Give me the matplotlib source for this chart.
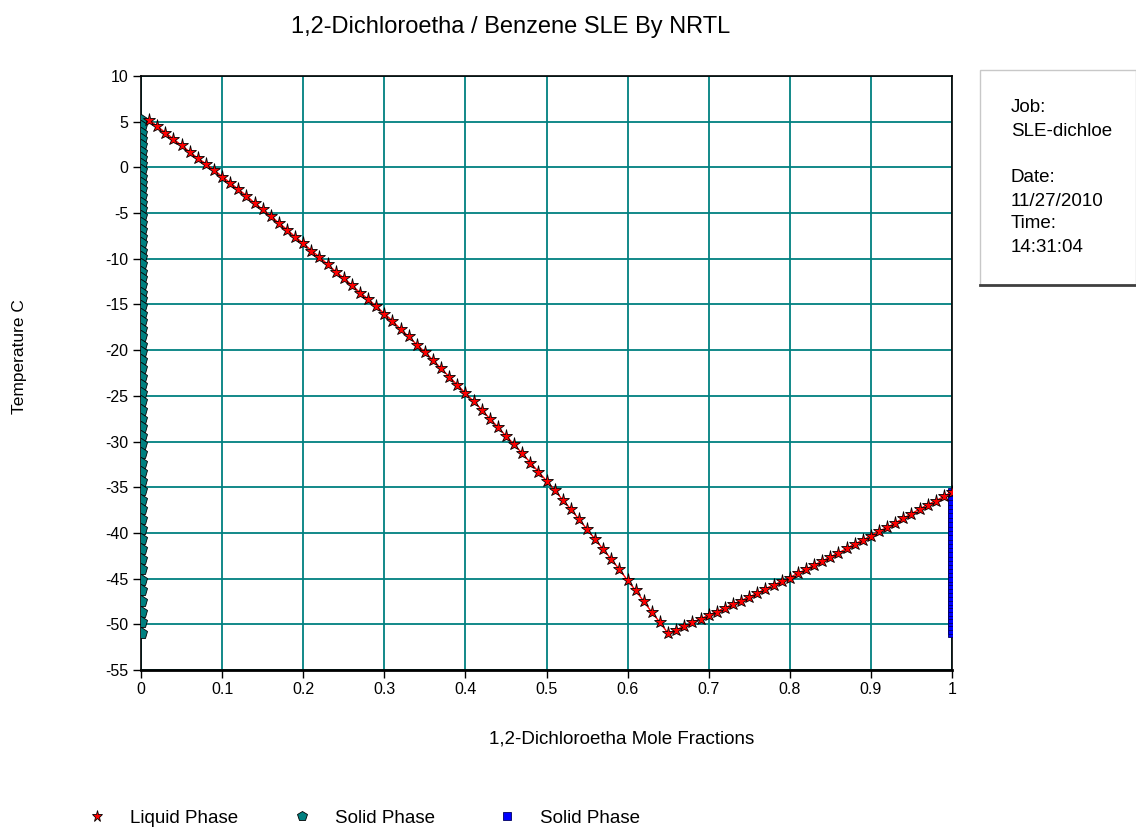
import matplotlib
matplotlib.use("Agg")
import matplotlib.pyplot as plt
from matplotlib.patches import Rectangle
from matplotlib.lines import Line2D

plt.rcParams['font.family'] = ['Liberation Sans', 'DejaVu Sans']
plt.rcParams['axes.unicode_minus'] = False

# liquidus, dichloroethane-rich side falling to the eutectic
x_left = [0.01, 0.02, 0.03, 0.04, 0.05, 0.06, 0.07, 0.08, 0.09, 0.10,
          0.11, 0.12, 0.13, 0.14, 0.15, 0.16, 0.17, 0.18, 0.19, 0.20,
          0.21, 0.22, 0.23, 0.24, 0.25, 0.26, 0.27, 0.28, 0.29, 0.30,
          0.31, 0.32, 0.33, 0.34, 0.35, 0.36, 0.37, 0.38, 0.39, 0.40,
          0.41, 0.42, 0.43, 0.44, 0.45, 0.46, 0.47, 0.48, 0.49, 0.50,
          0.51, 0.52, 0.53, 0.54, 0.55, 0.56, 0.57, 0.58, 0.59, 0.60,
          0.61, 0.62, 0.63, 0.64, 0.65]
t_left = [5.2, 4.5, 3.8, 3.1, 2.4, 1.7, 1.0, 0.4, -0.3, -1.0,
          -1.7, -2.4, -3.1, -3.9, -4.6, -5.3, -6.1, -6.8, -7.6, -8.3,
          -9.1, -9.8, -10.6, -11.4, -12.1, -12.9, -13.7, -14.4, -15.2, -16.0,
          -16.8, -17.7, -18.5, -19.4, -20.2, -21.1, -22.0, -22.9, -23.8, -24.7,
          -25.6, -26.5, -27.5, -28.4, -29.4, -30.3, -31.3, -32.3, -33.3, -34.3,
          -35.3, -36.4, -37.4, -38.5, -39.6, -40.7, -41.8, -42.9, -44.0, -45.2,
          -46.3, -47.5, -48.7, -49.8, -51.0]

# liquidus, rising from the eutectic to pure component
x_right = [0.66, 0.67, 0.68, 0.69, 0.70, 0.71, 0.72, 0.73, 0.74, 0.75,
           0.76, 0.77, 0.78, 0.79, 0.80, 0.81, 0.82, 0.83, 0.84, 0.85,
           0.86, 0.87, 0.88, 0.89, 0.90, 0.91, 0.92, 0.93, 0.94, 0.95,
           0.96, 0.97, 0.98, 0.99, 1.00]
t_right = [-50.6, -50.2, -49.8, -49.4, -49.0, -48.6, -48.2, -47.8, -47.4, -47.0,
           -46.6, -46.1, -45.7, -45.3, -44.9, -44.4, -44.0, -43.5, -43.1, -42.6,
           -42.2, -41.7, -41.2, -40.8, -40.3, -39.8, -39.4, -38.9, -38.4, -37.9,
           -37.4, -36.9, -36.5, -36.0, -35.5]

x_liquid = x_left + x_right
t_liquid = t_left + t_right

# solid phases: pure components at x = 0 and x = 1
x_solid1 = [0.0] * len(t_left)
t_solid1 = t_left
x_solid2 = [1.0] * (len(t_right) + 1)
t_solid2 = [t_left[-1]] + t_right

xticks = [0, 0.1, 0.2, 0.3, 0.4, 0.5, 0.6, 0.7, 0.8, 0.9, 1]
xticklabels = ['0', '0.1', '0.2', '0.3', '0.4', '0.5', '0.6', '0.7', '0.8', '0.9', '1']
yticks = list(range(10, -60, -5))

W, H = 1136, 827
fig = plt.figure(figsize=(W / 100, H / 100), dpi=100)
ax = fig.add_axes([141 / W, 1 - 670 / H, (952 - 141) / W, (670 - 76) / H])

teal = '#008080'
ax.plot(x_liquid, t_liquid, color='red', lw=1, marker='*', ms=9.5,
        mfc='red', mec='black', mew=0.6, zorder=4, label='Liquid Phase')
ax.plot(x_solid1, t_solid1, ls='none', marker='p', ms=9,
        mfc=teal, mec='black', mew=0.6, zorder=3, label='Solid Phase')
ax.plot(x_solid2, t_solid2, ls='none', marker='s', ms=6,
        mfc='#0000ff', mec='#000060', mew=0.6, zorder=3, label='Solid Phase')

ax.set_xlim(0, 1)
ax.set_ylim(-55, 10)
ax.set_xticks(xticks)
ax.set_xticklabels(xticklabels)
ax.set_yticks(yticks)
ax.grid(True, color=teal, lw=1.3)
ax.set_axisbelow(True)
ax.tick_params(direction='out', length=6, width=1, color='black',
               labelsize=11.5, pad=3)
for side in ['left', 'top', 'right']:
    ax.spines[side].set_linewidth(1.2)
ax.spines['bottom'].set_linewidth(2)

fig.text(511 / W, 1 - 27 / H, '1,2-Dichloroetha / Benzene SLE By NRTL',
         ha='center', va='center', fontsize=17)
fig.text(622 / W, 1 - 739 / H, '1,2-Dichloroetha Mole Fractions',
         ha='center', va='center', fontsize=13.5)
fig.text(20 / W, 1 - 357 / H, 'Temperature C', rotation=90,
         ha='center', va='center', fontsize=12.5)

# legend entries along the bottom
handles, labels = ax.get_legend_handles_labels()
for h, lab, xl in zip(handles, labels, [89, 294, 499]):
    proxy = Line2D([], [], ls='none', marker=h.get_marker(), ms=h.get_markersize() * 0.85,
                   mfc=h.get_markerfacecolor(), mec=h.get_markeredgecolor(), mew=0.6)
    fig.legend(handles=[proxy], labels=[lab], loc='center left',
               bbox_to_anchor=(xl / W, 1 - 818 / H), frameon=False,
               borderpad=0, borderaxespad=0, handlelength=0.9,
               handletextpad=1.3, fontsize=13.5)

# job info box
fig.add_artist(Rectangle((980 / W, 1 - 285 / H), (W - 980) / W, (285 - 70) / H,
                         transform=fig.transFigure, fc='white', ec='#c8c8c8', lw=1))
fig.add_artist(Line2D([980 / W, 1], [1 - 285 / H, 1 - 285 / H],
                      transform=fig.transFigure, color='#404040', lw=2))
info = ['Job:', 'SLE-dichloe', '', 'Date:', '11/27/2010', 'Time:', '14:31:04']
info_y = [108, 131, 154, 178, 201, 224, 247]
for s, yy in zip(info, info_y):
    fig.text(1011 / W, 1 - yy / H, s, ha='left', va='center', fontsize=13.5)

fig.savefig('out.png', dpi=100)
